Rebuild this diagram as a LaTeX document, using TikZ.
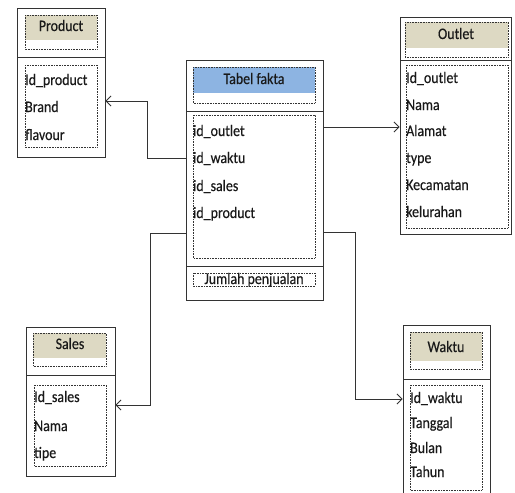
\documentclass[tikz,border=0pt]{standalone}
\usepackage{fontspec}
\setmainfont{Carlito}[FakeStretch=0.87,FakeBold=0.35]
\usetikzlibrary{arrows.meta}
\definecolor{tanfill}{HTML}{DDD9C3}
\definecolor{bluefill}{HTML}{8DB4E2}
\definecolor{bord}{HTML}{333333}
\tikzset{
 outer/.style={draw=bord, line width=0.9pt, rectangle, inner sep=0pt},
 divider/.style={draw=bord, line width=0.9pt},
 dots/.style={draw=bord, densely dotted, line width=0.6pt},
 field/.style={anchor=base west, inner sep=0pt, font=\fontsize{16}{18}\selectfont, text=black!90},
 title/.style={anchor=base, inner sep=0pt, font=\fontsize{16}{18}\selectfont, text=black!90},
 link/.style={draw=bord, line width=0.8pt, -{Straight Barb[length=5pt,width=10pt]}}
}
\begin{document}
\begin{tikzpicture}[x=1pt,y=-1pt]
\useasboundingbox (0,0) rectangle (515,493);
\fill[white] (0,0) rectangle (515,493);

% ---------- Product ----------
\node[outer, minimum width=88pt, minimum height=149pt] (product) at (61,82.5) {};
\draw[divider] (17,57) -- (105,57);
\fill[tanfill] (25,15) rectangle (97,40);
\draw[dots] (25,15) rectangle (97,49);
\node[title] (productT) at (61,31) {Product};
\draw[dots] (25,65) rectangle (97,147);
\node[field] (p1) at (25,85) {Id\_product};
\node[field] (p2) at (25,112) {Brand};
\node[field] (p3) at (25,140) {flavour};

% ---------- Tabel fakta ----------
\node[outer, minimum width=137pt, minimum height=240pt] (fakta) at (254.5,180) {};
\draw[divider] (186,111) -- (323,111);
\draw[divider] (186,266) -- (323,266);
\fill[bluefill] (193,67) rectangle (315,93);
\draw[dots] (193,67) rectangle (315,103);
\node[title] (faktaT) at (254,84) {Tabel fakta};
\draw[dots] (193,115) rectangle (315,258);
\node[field] (f1) at (193,136) {id\_outlet};
\node[field] (f2) at (193,163) {id\_waktu};
\node[field] (f3) at (193,191) {id\_sales};
\node[field] (f4) at (193,218) {id\_product};
\draw[dots] (193,273) rectangle (315,286);
\node[title] (jumlah) at (254,284) {Jumlah penjualan};

% ---------- Outlet ----------
\node[outer, minimum width=111pt, minimum height=217pt] (outlet) at (455.5,125.5) {};
\draw[divider] (400,60) -- (511,60);
\fill[tanfill] (405,22) rectangle (508,48);
\draw[dots] (405,22) rectangle (508,57);
\node[title] (outletT) at (456,39) {Outlet};
\draw[dots] (406,65) rectangle (508,228);
\node[field] (o1) at (406,83) {Id\_outlet};
\node[field] (o2) at (406,110) {Nama};
\node[field] (o3) at (406,136) {Alamat};
\node[field] (o4) at (406,163) {type};
\node[field] (o5) at (406,190) {Kecamatan};
\node[field] (o6) at (406,217) {kelurahan};

% ---------- Sales ----------
\node[outer, minimum width=89pt, minimum height=149pt] (sales) at (70.5,401.5) {};
\draw[divider] (26,375) -- (115,375);
\fill[tanfill] (33,333) rectangle (106,358);
\draw[dots] (33,333) rectangle (106,366);
\node[title] (salesT) at (70,349) {Sales};
\draw[dots] (34,385) rectangle (106,466);
\node[field] (s1) at (34,402) {Id\_sales};
\node[field] (s2) at (34,431) {Nama};
\node[field] (s3) at (34,458) {tipe};

% ---------- Waktu ----------
\node[outer, minimum width=87pt, minimum height=171pt] (waktu) at (446.5,410.5) {};
\draw[divider] (403,379) -- (490,379);
\fill[tanfill] (410,332) rectangle (482,361);
\draw[dots] (410,332) rectangle (482,369);
\node[title] (waktuT) at (446,352) {Waktu};
\draw[dots] (410,385) rectangle (482,490);
\node[field] (w1) at (410,403) {Id\_waktu};
\node[field] (w2) at (410,428) {Tanggal};
\node[field] (w3) at (410,453) {Bulan};
\node[field] (w4) at (410,477) {Tahun};

% ---------- Connectors ----------
\coordinate (lp) at (147,101);
\coordinate (ls) at (150,405);
\coordinate (rw) at (355,399);
\draw[link] (fakta.west |- 0,158) -| (lp) -- (product.east |- lp);
\draw[link] (fakta.west |- 0,233) -| (ls) -- (sales.east |- ls);
\draw[link] (fakta.east |- 0,127) -- (outlet.west |- 0,127);
\draw[link] (fakta.east |- 0,232) -| (rw) -- (waktu.west |- rw);
\end{tikzpicture}
\end{document}
